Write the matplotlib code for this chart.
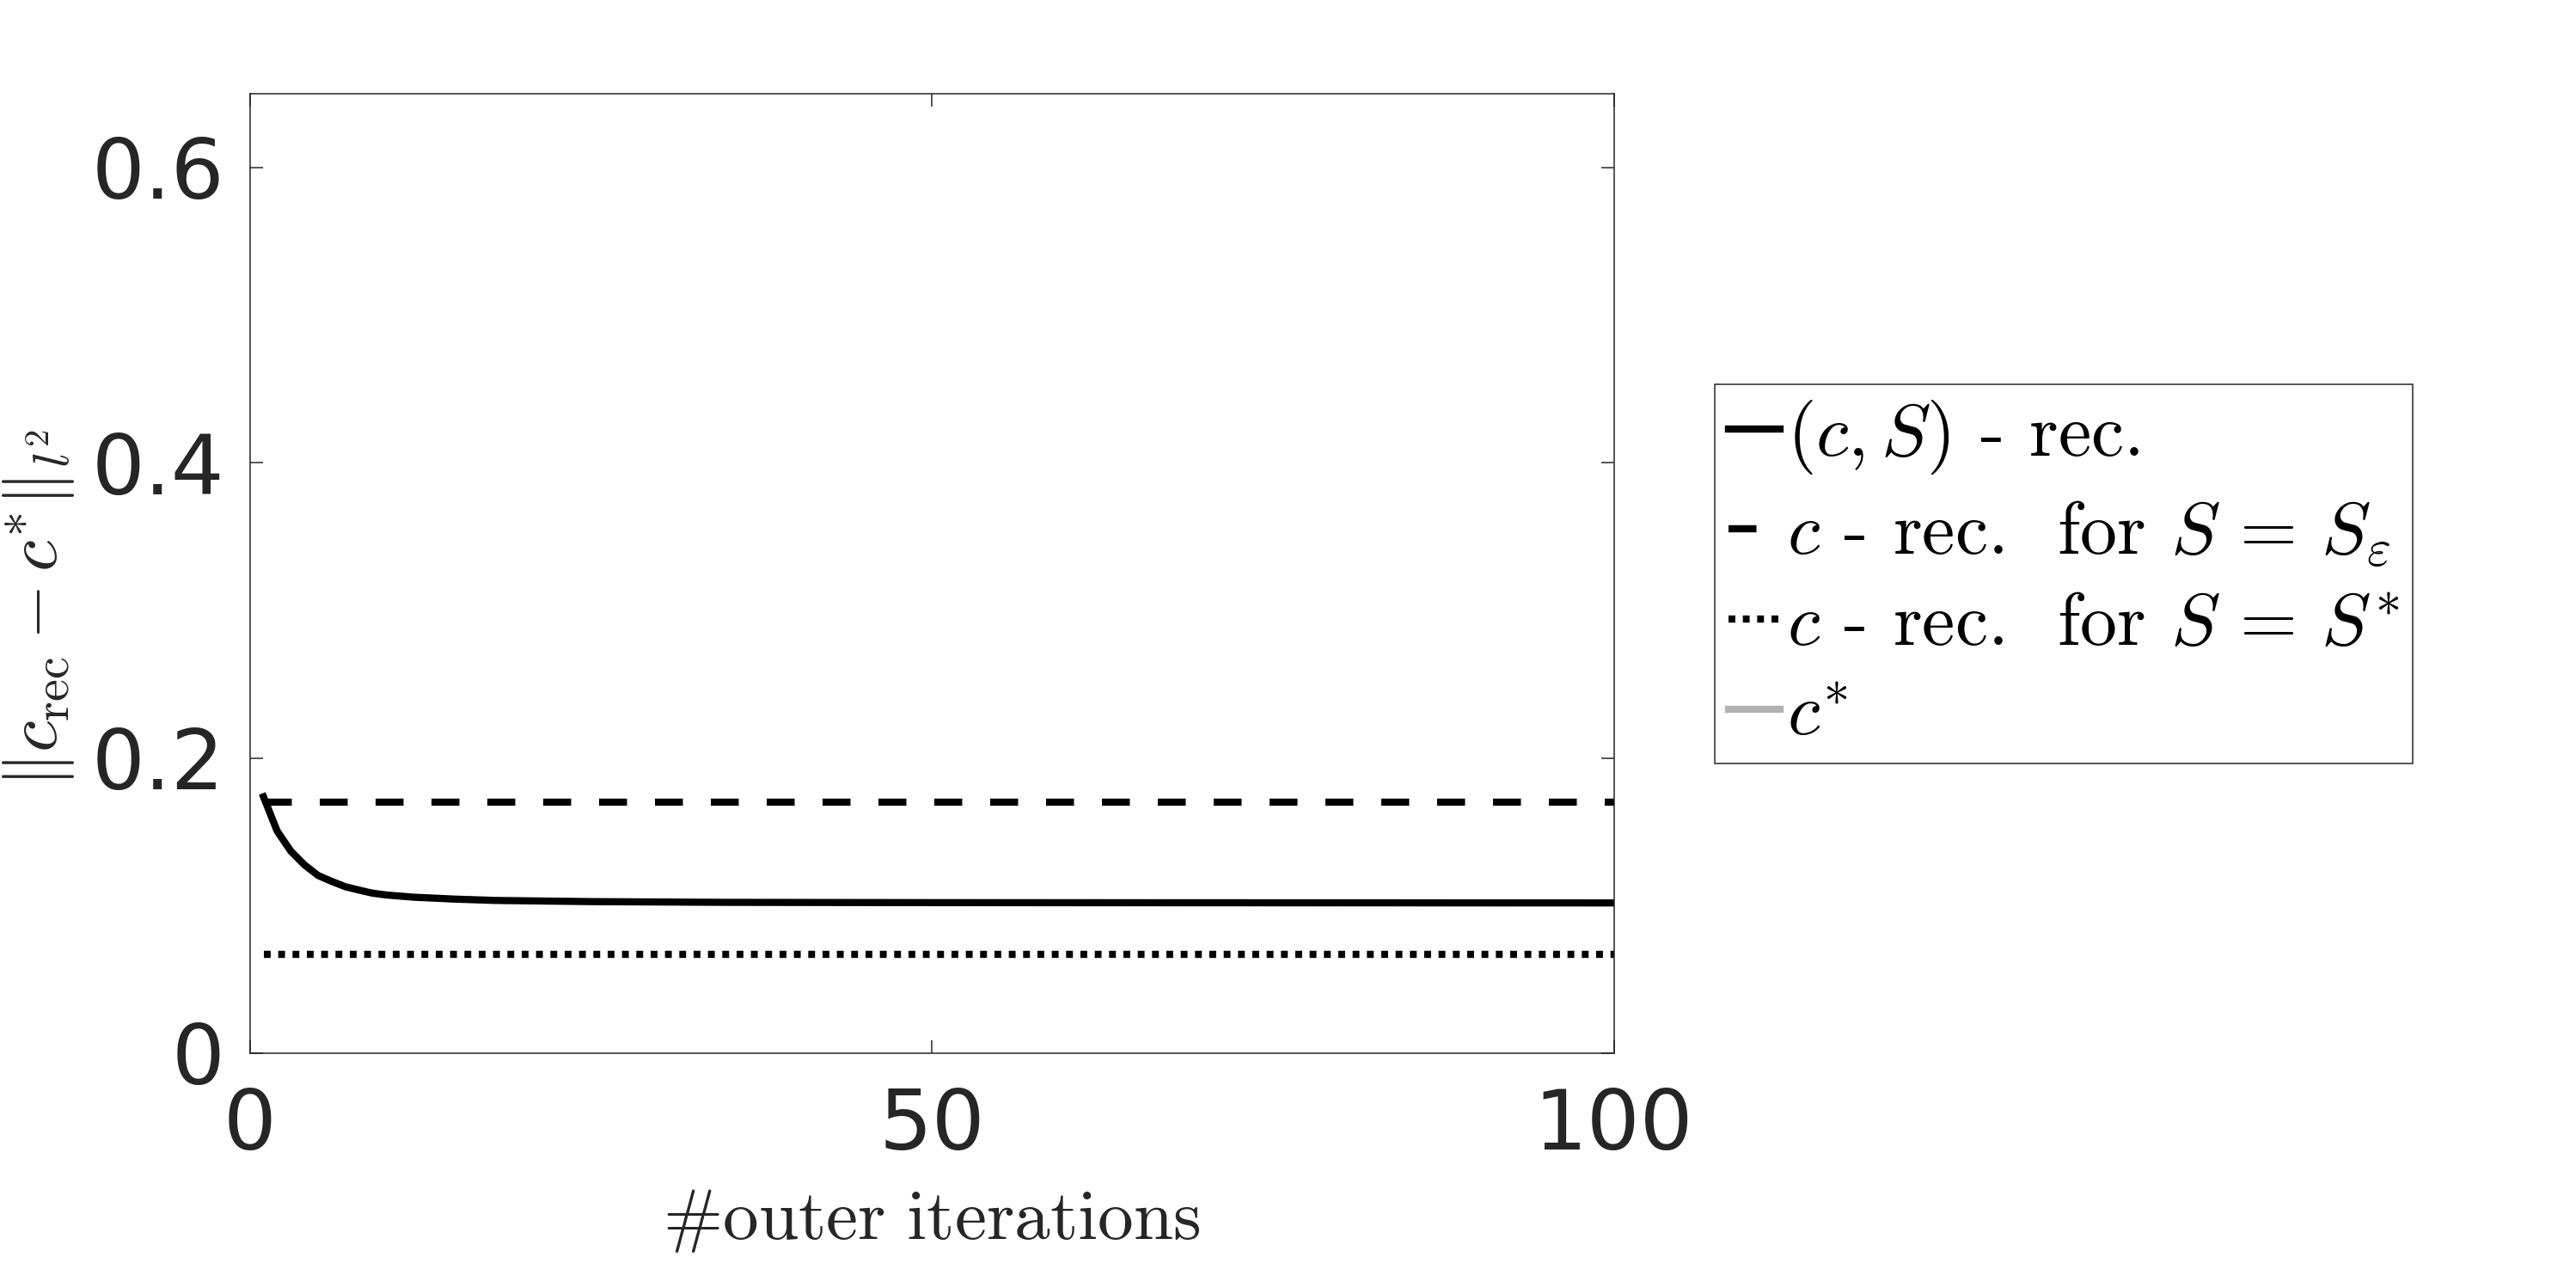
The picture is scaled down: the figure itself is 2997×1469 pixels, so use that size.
import matplotlib
matplotlib.use('Agg')
import matplotlib.pyplot as plt
import numpy as np

plt.rcParams['mathtext.fontset'] = 'cm'
plt.rcParams['axes.unicode_minus'] = False

iters = [1, 2, 3, 4, 5, 6, 7, 8, 9, 10, 12, 15, 18, 25, 35, 50, 75, 100]
err_cS = [0.1737, 0.1505, 0.1369, 0.1276, 0.1204, 0.1164, 0.1128, 0.1105, 0.1084,
          0.1072, 0.1057, 0.1044, 0.1035, 0.1027, 0.1022, 0.1020, 0.1019, 0.1018]
iters_flat = [1, 100]
err_S_eps = [0.1703, 0.1703]
err_S_star = [0.0672, 0.0672]
err_c_star = [np.nan, np.nan]

labels = [r'$(c,S)$ - rec.',
          r'$c$ - rec.  for $S\,=\,S_\varepsilon$',
          r'$c$ - rec.  for $S\,=\,S^{*}$',
          r'$c^{*}$']

xticks = [0, 50, 100]
yticks = [0, 0.2, 0.4, 0.6]
ytick_labels = ['0', '0.2', '0.4', '0.6']

dark = '#262626'
lw = 6.0

fig = plt.figure(figsize=(29.97, 14.69), dpi=100)
ax = fig.add_axes([0.0970, 0.1661, 0.5295, 0.7597])

ax.plot(iters, err_cS, color='black', linewidth=lw, label=labels[0])
ax.plot(iters_flat, err_S_eps, color='black', linewidth=lw, dashes=(3.9, 3.9), label=labels[1])
ax.plot(iters_flat, err_S_star, color='black', linewidth=lw, dashes=(0.95, 1.05), label=labels[2])
ax.plot(iters_flat, err_c_star, color='#b3b3b3', linewidth=lw, label=labels[3])

ax.set_xlim(0, 100)
ax.set_ylim(0, 0.65)
ax.set_xticks(xticks)
ax.set_yticks(yticks)
ax.set_yticklabels(ytick_labels)
ax.tick_params(direction='in', length=10.8, width=1.1, colors=dark,
               labelsize=70, top=True, right=True)
ax.tick_params(axis='x', pad=28)
ax.tick_params(axis='y', pad=21)
for sp in ax.spines.values():
    sp.set_color(dark)
    sp.set_linewidth(1.1)

ax.set_xlabel(r'$\#\mathrm{outer\ iterations}$', fontsize=60, color=dark)
ax.xaxis.set_label_coords(0.5, -0.137)
ax.set_ylabel(r'$\|c_{\mathrm{rec}}-c^{*}\|_{l^2}$', fontsize=60, color=dark)
ax.yaxis.set_label_coords(-0.127, 0.464)

leg = ax.legend(loc='upper left', bbox_to_anchor=(1995 / 2997, 1 - 447 / 1469),
                bbox_transform=fig.transFigure, borderaxespad=0,
                prop={'family': 'cmr10', 'size': 62},
                handlelength=0.7, handletextpad=0.1, labelspacing=0.32,
                borderpad=0.18, fancybox=False, framealpha=1)
leg.get_frame().set_edgecolor(dark)
leg.get_frame().set_linewidth(1.1)

fig.savefig('out.png', dpi=100)
